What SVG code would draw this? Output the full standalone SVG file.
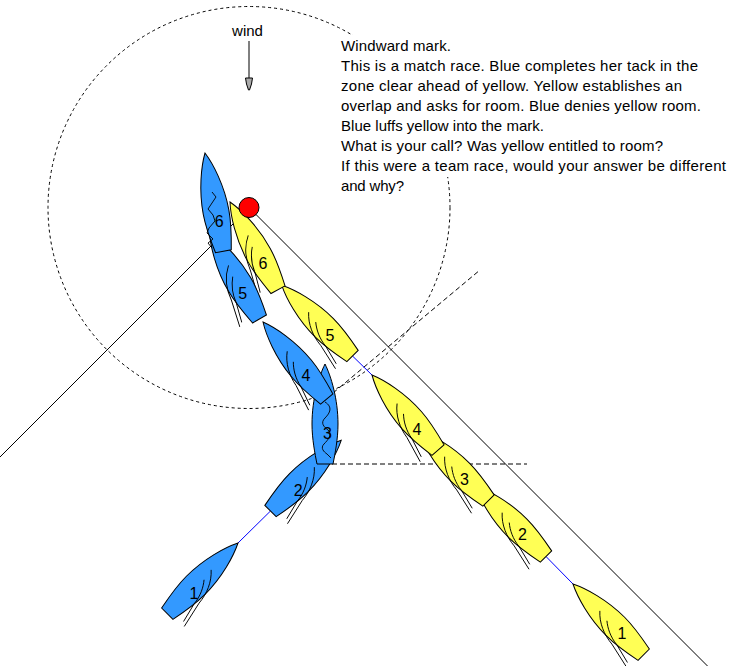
<svg xmlns="http://www.w3.org/2000/svg" xmlns:xlink="http://www.w3.org/1999/xlink" width="755" height="666" viewBox="0 0 755 666">
<style>
.yh{fill:#ffff55;stroke:#000;stroke-width:1}
.bh{fill:#3399ff;stroke:#000;stroke-width:1}
.sail{fill:none;stroke:#000;stroke-width:0.9}
.num{font-family:"Liberation Sans",Arial,sans-serif;font-size:16px;text-anchor:middle;fill:#000}
.txt{font-family:"Liberation Sans",Arial,sans-serif;font-size:15px;fill:#000}
.track{stroke:#0000ff;stroke-width:1;fill:none}
.solid{stroke:#000;stroke-width:1;fill:none}
.dashc{stroke:#000;stroke-width:1;fill:none;stroke-dasharray:3 3}
.dashl{stroke:#000;stroke-width:1;fill:none;stroke-dasharray:5 3}
.bg{fill:#fff;stroke:none}
</style>
<defs>
<path id="hull" d="M0,0 C6,12 13,35 13,60 C13,75 10,90 8,100 L-8,100 C-10,90 -13,75 -13,60 C-13,35 -6,12 0,0 Z"/>
<g id="sailS" class="sail">
<path d="M0,38 C9,46 14,58 15,70 L21,97"/>
<path d="M2,50 C7,56 11,64 12,74 L17,94"/>
</g>
<g id="sailP"><use xlink:href="#sailS" href="#sailS" transform="scale(-1,1)"/></g>
</defs>
<rect width="755" height="666" fill="#fff"/>
<g id="lines">
<circle class="dashc" cx="249" cy="207.5" r="201"/>
<path class="dashl" d="M333,393 L480,270"/>
<path class="dashl" d="M332,464 L527,464"/>
<path class="solid" d="M249,207.5 L707.5,666"/>
<path class="solid" d="M249,208 L0,457"/>
</g>
<g id="caption">
<rect class="bg" x="338" y="35" width="116" height="21"/>
<rect class="bg" x="338" y="55" width="363" height="21"/>
<rect class="bg" x="338" y="75" width="347" height="21"/>
<rect class="bg" x="338" y="95" width="366" height="21"/>
<rect class="bg" x="338" y="115" width="209" height="21"/>
<rect class="bg" x="338" y="135" width="327" height="21"/>
<rect class="bg" x="338" y="155" width="391" height="22"/>
<rect class="bg" x="338" y="176" width="68" height="20"/>
<text class="txt" x="341" y="51" textLength="110" lengthAdjust="spacing">Windward mark.</text>
<text class="txt" x="341" y="71" textLength="357" lengthAdjust="spacing">This is a match race. Blue completes her tack in the</text>
<text class="txt" x="341" y="91" textLength="341" lengthAdjust="spacing">zone clear ahead of yellow. Yellow establishes an</text>
<text class="txt" x="341" y="111" textLength="360" lengthAdjust="spacing">overlap and asks for room. Blue denies yellow room.</text>
<text class="txt" x="341" y="131" textLength="203" lengthAdjust="spacing">Blue luffs yellow into the mark.</text>
<text class="txt" x="341" y="151" textLength="322" lengthAdjust="spacing">What is your call? Was yellow entitled to room?</text>
<text class="txt" x="341" y="171" textLength="385" lengthAdjust="spacing">If this were a team race, would your answer be different</text>
<text class="txt" x="341" y="191" textLength="63" lengthAdjust="spacing">and why?</text>
</g>
<g id="wind">
<text class="txt" x="247.5" y="35.5" text-anchor="middle">wind</text>
<path class="solid" d="M249,41 L249,78"/>
<polygon points="245.5,78 252.5,78 251.5,84 249.5,90 248.5,90 246.5,84" fill="#aaaaaa" stroke="#000" stroke-width="1"/>
</g>
<g id="connectors">
<path class="track" d="M238,543 L270.5,511"/>
<path class="track" d="M352.5,356 L373,376"/>
<path class="track" d="M546,556.5 L573,584"/>
</g>
<g id="yellow1"><g transform="translate(573,584) rotate(-45)"><use href="#hull" class="yh"/><use href="#sailP"/></g><text class="num" x="622" y="639">1</text></g>
<g id="yellow2"><g transform="translate(475.3,485.8) rotate(-45)"><use href="#hull" class="yh"/><use href="#sailP"/></g><text class="num" x="522.5" y="540">2</text></g>
<g id="yellow3"><g transform="translate(417.8,429.8) rotate(-45)"><use href="#hull" class="yh"/><use href="#sailP"/></g><text class="num" x="464.5" y="484.5">3</text></g>
<g id="yellow4"><g transform="translate(372,375) rotate(-41.3)"><use href="#hull" class="yh"/><use href="#sailP"/></g><text class="num" x="417" y="434.5">4</text></g>
<g id="yellow5"><g transform="translate(281.8,285.3) rotate(-45)"><use href="#hull" class="yh"/><use href="#sailP"/></g><text class="num" x="330" y="341">5</text></g>
<g id="yellow6"><g transform="translate(230,202) rotate(-28.7)"><use href="#hull" class="yh"/><use href="#sailP"/></g><text class="num" x="263" y="269">6</text></g>
<g id="blue1"><g transform="translate(238,543) rotate(45)"><use href="#hull" class="bh"/><use href="#sailS"/></g><text class="num" x="194" y="598.5">1</text></g>
<g id="blue2"><g transform="translate(341.2,440.3) rotate(45)"><use href="#hull" class="bh"/><use href="#sailS"/></g><text class="num" x="298.3" y="496">2</text></g>
<g id="blue3"><g transform="translate(325,364)"><use href="#hull" class="bh"/></g><path class="sail" d="M325,402 C333,407 330,413 325,418 C320,423 324,427 328,430 C333,434 328,440 324,444 C320,448 324,452 327,454 L331,458"/><text class="num" x="327.5" y="438.5">3</text></g>
<g id="blue4"><g transform="translate(263,322) rotate(-39.6)"><use href="#hull" class="bh"/><use href="#sailP"/></g><text class="num" x="306" y="381">4</text></g>
<g id="blue5"><g transform="translate(209.5,232.4) rotate(-30)"><use href="#hull" class="bh"/><use href="#sailP"/></g><text class="num" x="242.7" y="299">5</text></g>
<g id="blue6"><g transform="translate(205,153) rotate(-10.6)"><use href="#hull" class="bh"/></g><path class="sail" d="M212,192 L216,197 L212,203 L208,209 L213,215 L215,221 L209,228 L207,233 L213,239 L208,243 L212,248"/><text class="num" x="219.3" y="227">6</text></g>
<g id="mark"><circle cx="249" cy="207.5" r="10" fill="#ff0000" stroke="#000" stroke-width="1"/></g>
</svg>
